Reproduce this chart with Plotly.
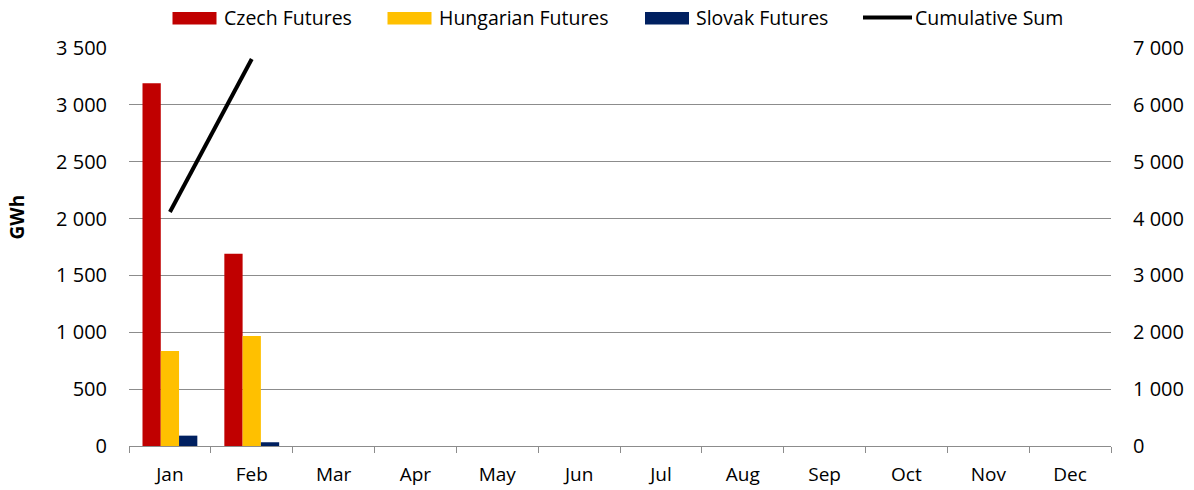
import plotly.graph_objects as go

months = ["Jan", "Feb", "Mar", "Apr", "May", "Jun", "Jul", "Aug", "Sep", "Oct", "Nov", "Dec"]
czech = [3190, 1690, None, None, None, None, None, None, None, None, None, None]
hungarian = [835, 967, None, None, None, None, None, None, None, None, None, None]
slovak = [91, 33, None, None, None, None, None, None, None, None, None, None]
cumulative = [4116, 6806, None, None, None, None, None, None, None, None, None, None]

series_names = ["Czech Futures", "Hungarian Futures", "Slovak Futures", "Cumulative Sum"]
series_colors = ["#C00000", "#FFC000", "#002060", "black"]
y_title = "GWh"

FONT = "Open Sans"
GRID = "#8c8c8c"
W, H = 1194, 490
ML, MR, MT, MB = 129, 83, 48, 44
PW, PH = W - ML - MR, H - MT - MB


def px(x):
    return (x - ML) / PW


def py(y):
    return (H - MB - y) / PH


fig = go.Figure()
for name, vals, col in zip(series_names[:3], [czech, hungarian, slovak], series_colors[:3]):
    fig.add_trace(go.Bar(x=months, y=vals, name=name, showlegend=False,
                         marker=dict(color=col, line=dict(width=0))))
fig.add_trace(go.Scatter(x=months, y=cumulative, name=series_names[3], mode="lines", showlegend=False,
                         line=dict(color=series_colors[3], width=4), yaxis="y2"))

# legend drawn like the original (wide keys)
legend_keys = [172.5, 387.5, 645, 863]
shapes = []
annotations = []
for i, (name, col, kx) in enumerate(zip(series_names, series_colors, legend_keys)):
    if i < 3:
        shapes.append(dict(type="rect", xref="paper", yref="paper",
                           x0=px(kx), x1=px(kx + 44), y0=py(24.5), y1=py(12),
                           fillcolor=col, line=dict(width=0)))
    else:
        shapes.append(dict(type="line", xref="paper", yref="paper",
                           x0=px(kx), x1=px(kx + 49), y0=py(17.5), y1=py(17.5),
                           line=dict(color=col, width=4)))
    tx = kx + (49 if i < 3 else 50)
    annotations.append(dict(text=name, xref="paper", yref="paper", x=px(tx), y=py(17.5),
                            xanchor="left", yanchor="middle", showarrow=False,
                            font=dict(family=FONT, size=19.5, color="black")))

annotations.append(dict(text="<b>" + y_title + "</b>", xref="paper", yref="paper",
                        x=px(16.5), y=py(217), textangle=-90, showarrow=False,
                        xanchor="center", yanchor="middle",
                        font=dict(family=FONT, size=19, color="black")))

fig.update_layout(
    width=W, height=H,
    margin=dict(l=ML, r=MR, t=MT, b=MB, autoexpand=False),
    paper_bgcolor="white", plot_bgcolor="white",
    separators=". ",
    barmode="group", bargap=0.33, bargroupgap=0,
    font=dict(family=FONT, size=19, color="black"),
    showlegend=False,
    shapes=shapes,
    annotations=annotations,
    xaxis=dict(type="category", categoryorder="array", categoryarray=months,
               showline=True, linecolor=GRID, linewidth=1,
               ticks="outside", tickson="boundaries", ticklen=6, tickcolor=GRID,
               showgrid=False, ticklabelstandoff=11),
    yaxis=dict(range=[0, 3500], dtick=500, tickformat=",d", showgrid=True,
               gridcolor=GRID, gridwidth=1, zeroline=False, showline=False,
               ticks="", ticklabelstandoff=21, tickfont=dict(size=20)),
    yaxis2=dict(range=[0, 7000], dtick=1000, tickformat=",d", overlaying="y", side="right",
                showgrid=False, zeroline=False, showline=False, ticks="",
                ticklabelstandoff=21, tickfont=dict(size=20)),
)

fig.write_html("out.html")
